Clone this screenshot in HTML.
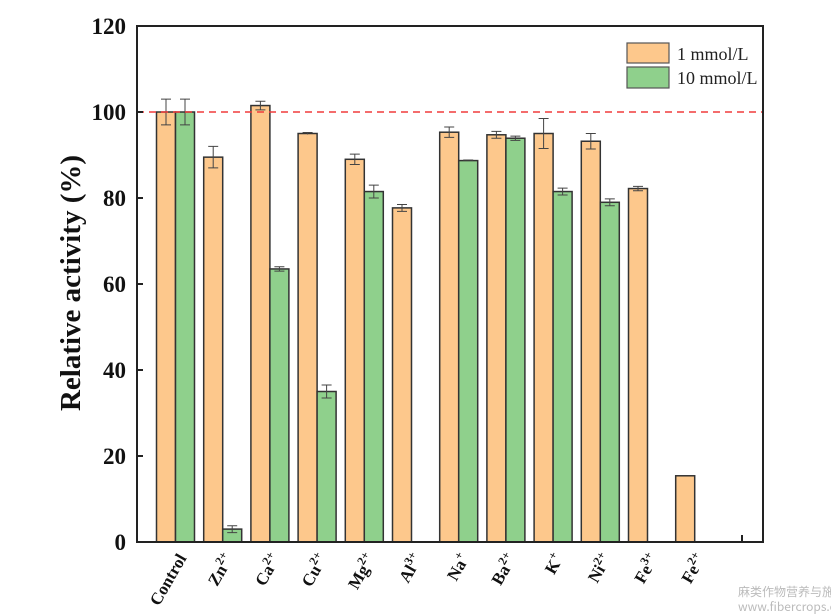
<!DOCTYPE html>
<html><head><meta charset="utf-8"><style>body{margin:0;background:#fff}svg{display:block}</style></head><body>
<svg width="831" height="616" xmlns="http://www.w3.org/2000/svg" font-family="Liberation Serif, serif">
<rect width="831" height="616" fill="#fff"/>
<g stroke="#333" stroke-width="1.5">
<g fill="#fdc88c">
<rect x="156.5" y="112" width="19" height="430"/>
<rect x="203.7" y="157.15" width="19" height="384.85"/>
<rect x="250.9" y="105.55" width="19" height="436.45"/>
<rect x="298.1" y="133.5" width="19" height="408.5"/>
<rect x="345.3" y="159.3" width="19" height="382.7"/>
<rect x="392.5" y="207.89" width="19" height="334.11"/>
<rect x="439.7" y="132.21" width="19" height="409.79"/>
<rect x="486.9" y="134.79" width="19" height="407.21"/>
<rect x="534.1" y="133.5" width="19" height="408.5"/>
<rect x="581.3" y="141.24" width="19" height="400.76"/>
<rect x="628.5" y="188.54" width="19" height="353.46"/>
<rect x="675.7" y="475.78" width="19" height="66.22"/>
</g>
<g fill="#8fd08c">
<rect x="175.5" y="112" width="19" height="430"/>
<rect x="222.7" y="529.1" width="19" height="12.9"/>
<rect x="269.9" y="268.95" width="19" height="273.05"/>
<rect x="317.1" y="391.5" width="19" height="150.5"/>
<rect x="364.3" y="191.55" width="19" height="350.45"/>
<rect x="458.7" y="160.59" width="19" height="381.41"/>
<rect x="505.9" y="138.23" width="19" height="403.77"/>
<rect x="553.1" y="191.55" width="19" height="350.45"/>
<rect x="600.3" y="202.3" width="19" height="339.7"/>
</g>
</g>
<g stroke="#444" stroke-width="1" fill="none">
<path d="M166 99.1V124.9M161 99.1H171M161 124.9H171"/>
<path d="M185 99.1V124.9M180 99.1H190M180 124.9H190"/>
<path d="M213.2 146.4V167.9M208.2 146.4H218.2M208.2 167.9H218.2"/>
<path d="M232.2 525.7V532.6M227.2 525.7H237.2M227.2 532.6H237.2"/>
<path d="M260.4 101.25V109.85M255.4 101.25H265.4M255.4 109.85H265.4"/>
<path d="M279.4 266.8V271.1M274.4 266.8H284.4M274.4 271.1H284.4"/>
<path d="M307.6 132.5V134.5M302.6 132.5H312.6"/>
<path d="M326.6 385.05V397.95M321.6 385.05H331.6M321.6 397.95H331.6"/>
<path d="M354.8 154.14V164.46M349.8 154.14H359.8M349.8 164.46H359.8"/>
<path d="M373.8 185.1V198M368.8 185.1H378.8M368.8 198H378.8"/>
<path d="M402 204.45V211.33M397 204.45H407M397 211.33H407"/>
<path d="M449.2 127.05V137.37M444.2 127.05H454.2M444.2 137.37H454.2"/>
<path d="M463.2 160H473.2"/>
<path d="M496.4 131.35V138.23M491.4 131.35H501.4M491.4 138.23H501.4"/>
<path d="M515.4 136.08V140.38M510.4 136.08H520.4M510.4 140.38H520.4"/>
<path d="M543.6 118.45V148.55M538.6 118.45H548.6M538.6 148.55H548.6"/>
<path d="M562.6 188.11V194.99M557.6 188.11H567.6M557.6 194.99H567.6"/>
<path d="M590.8 133.5V148.98M585.8 133.5H595.8M585.8 148.98H595.8"/>
<path d="M609.8 198.86V205.74M604.8 198.86H614.8M604.8 205.74H614.8"/>
<path d="M638 186.39V190.69M633 186.39H643M633 190.69H643"/>
</g>
<line x1="137" y1="112" x2="763" y2="112" stroke="#f03c3c" stroke-width="1.5" stroke-dasharray="7,5"/>
<rect x="137" y="26" width="626" height="516" fill="none" stroke="#222" stroke-width="2"/>
<g stroke="#222" stroke-width="2">
<line x1="137" y1="26" x2="143" y2="26"/><line x1="137" y1="112" x2="143" y2="112"/><line x1="137" y1="198" x2="143" y2="198"/><line x1="137" y1="284" x2="143" y2="284"/><line x1="137" y1="370" x2="143" y2="370"/><line x1="137" y1="456" x2="143" y2="456"/>
<line x1="742" y1="542" x2="742" y2="535"/>
</g>
<g font-size="23" font-weight="bold" text-anchor="end" fill="#111">
<text x="126" y="34">120</text><text x="126" y="120">100</text><text x="126" y="206">80</text><text x="126" y="292">60</text><text x="126" y="378">40</text><text x="126" y="464">20</text><text x="126" y="550">0</text>
</g>
<text transform="translate(80,283) rotate(-90)" text-anchor="middle" font-size="29" font-weight="bold" fill="#111">Relative activity (%)</text>
<g font-size="17" font-weight="bold" fill="#111" text-anchor="end">
<text transform="translate(187,558) rotate(-60)">Control</text>
<text transform="translate(234,558) rotate(-60)">Zn<tspan font-size="12" dy="-7">2+</tspan></text>
<text transform="translate(281,558) rotate(-60)">Ca<tspan font-size="12" dy="-7">2+</tspan></text>
<text transform="translate(328,558) rotate(-60)">Cu<tspan font-size="12" dy="-7">2+</tspan></text>
<text transform="translate(376,558) rotate(-60)">Mg<tspan font-size="12" dy="-7">2+</tspan></text>
<text transform="translate(423,558) rotate(-60)">Al<tspan font-size="12" dy="-7">3+</tspan></text>
<text transform="translate(470,558) rotate(-60)">Na<tspan font-size="12" dy="-7">+</tspan></text>
<text transform="translate(517,558) rotate(-60)">Ba<tspan font-size="12" dy="-7">2+</tspan></text>
<text transform="translate(564,558) rotate(-60)">K<tspan font-size="12" dy="-7">+</tspan></text>
<text transform="translate(612,558) rotate(-60)">Ni<tspan font-size="12" dy="-7">2+</tspan></text>
<text transform="translate(659,558) rotate(-60)">Fe<tspan font-size="12" dy="-7">3+</tspan></text>
<text transform="translate(706,558) rotate(-60)">Fe<tspan font-size="12" dy="-7">2+</tspan></text>
</g>
<rect x="627" y="43" width="42" height="20" fill="#fdc88c" stroke="#555" stroke-width="1.2"/>
<rect x="627" y="67" width="42" height="21" fill="#8fd08c" stroke="#555" stroke-width="1.2"/>
<g font-size="18" fill="#222"><text x="677" y="60">1 mmol/L</text><text x="677" y="84">10 mmol/L</text></g>
<g font-size="12" fill="#bbb" font-family="Noto Sans CJK SC, sans-serif"><text x="738" y="596">麻类作物营养与施肥网</text><text x="738" y="611">www.fibercrops.com</text></g>
</svg>
</body></html>
